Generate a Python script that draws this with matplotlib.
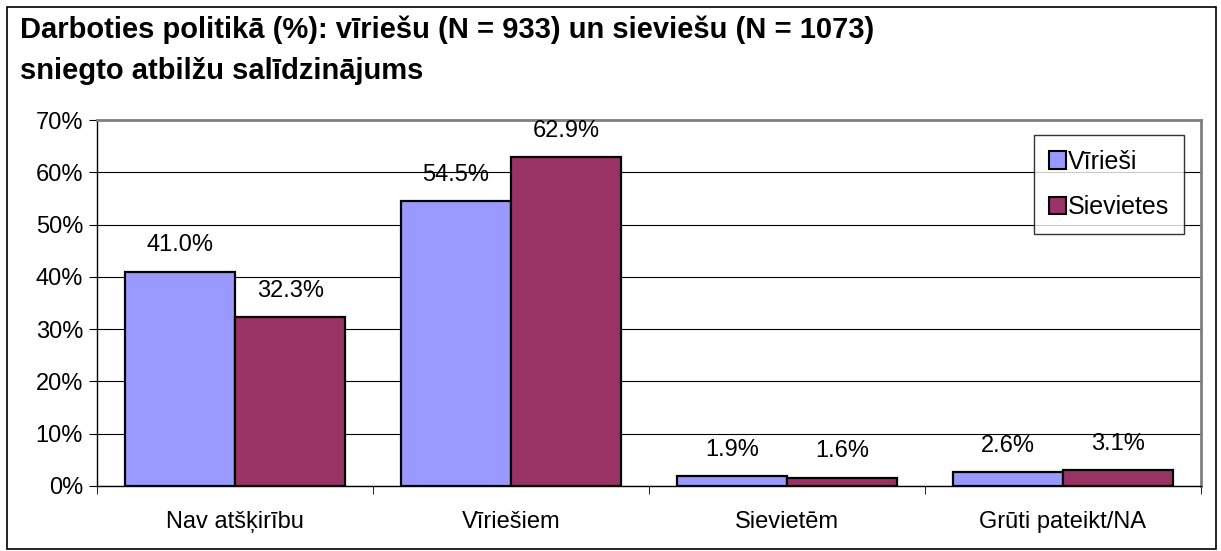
import matplotlib.pyplot as plt
import numpy as np
from matplotlib.patches import Rectangle

plt.rcParams["font.family"] = ["Liberation Sans", "DejaVu Sans"]

categories = ["Nav atšķirību", "Vīriešiem", "Sievietēm", "Grūti pateikt/NA"]
men = [41.0, 54.5, 1.9, 2.6]
women = [32.3, 62.9, 1.6, 3.1]
series_names = ["Vīrieši", "Sievietes"]
title = ("Darboties politikā (%): vīriešu (N = 933) un sieviešu (N = 1073)\n"
         "sniegto atbilžu salīdzinājums")

fig = plt.figure(figsize=(12.21, 5.51), dpi=100)
fig.patches.append(Rectangle((0.006, 0.004), 0.99, 0.983, transform=fig.transFigure,
                             fill=False, edgecolor="black", linewidth=1.2))
ax = fig.add_axes([0.0794, 0.118, 0.9042, 0.664])

x = np.arange(len(categories))
w = 0.4
b1 = ax.bar(x - w / 2, men, width=w, color="#9999FF", edgecolor="black", linewidth=1.6,
            label=series_names[0], zorder=3)
b2 = ax.bar(x + w / 2, women, width=w, color="#993366", edgecolor="black", linewidth=1.6,
            label=series_names[1], zorder=3)
for bars, vals in ((b1, men), (b2, women)):
    for bar, v in zip(bars, vals):
        ax.annotate(f"{v:.1f}%", (bar.get_x() + bar.get_width() / 2, v),
                    xytext=(0, 11), textcoords="offset points",
                    ha="center", va="bottom", fontsize=17)

ax.set_xlim(-0.5, len(categories) - 0.5)
ax.set_ylim(0, 70)
ax.set_yticks(np.arange(0, 71, 10))
ax.set_yticklabels([f"{t}%" for t in range(0, 71, 10)], fontsize=17)
ax.set_xticks(x)
ax.set_xticklabels(categories, fontsize=17)
ax.set_xticks(np.arange(-0.5, len(categories)), minor=True)
ax.tick_params(axis="x", which="major", length=0, pad=18)
ax.tick_params(axis="x", which="minor", length=6, direction="out", color="black")
ax.tick_params(axis="y", length=6, direction="out", pad=4)
ax.grid(axis="y", color="black", linewidth=0.8, zorder=0)
ax.spines["top"].set_color("#808080")
ax.spines["right"].set_color("#808080")
ax.spines["top"].set_linewidth(2)
ax.spines["right"].set_linewidth(2)
ax.spines["left"].set_linewidth(1)
ax.spines["bottom"].set_linewidth(1)

leg = ax.legend(loc="upper right", bbox_to_anchor=(0.985, 0.96), fontsize=18,
                frameon=True, fancybox=False, edgecolor="black", handlelength=0.68,
                handleheight=0.68, handletextpad=0.1, borderpad=0.6, labelspacing=0.85,
                borderaxespad=0)
leg.get_frame().set_linewidth(1)
for h in leg.legend_handles:
    h.set_linewidth(1.5)

fig.text(0.016, 0.972, title, fontsize=21, fontweight="bold", ha="left", va="top",
         linespacing=1.6)

fig.savefig("out.png", dpi=100)
